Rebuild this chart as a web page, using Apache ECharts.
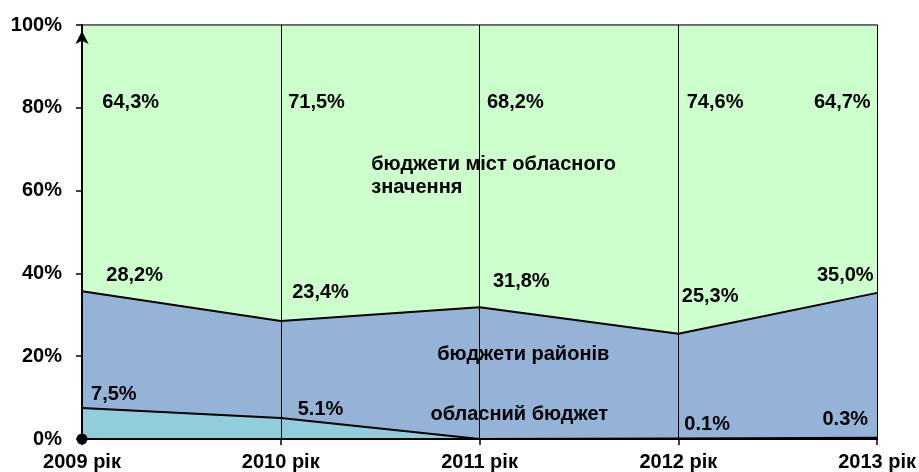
<!DOCTYPE html>
<html>
<head>
<meta charset="utf-8">
<script src="https://cdn.jsdelivr.net/npm/echarts@6/dist/echarts.min.js"></script>
<style>
html,body{margin:0;padding:0;background:#fff;}
#chart{width:919px;height:472px;}
</style>
</head>
<body>
<div id="chart"></div>
<script>
// Categories
var years = ['2009 рік', '2010 рік', '2011 рік', '2012 рік', '2013 рік'];
// Series values (percent shares)
var oblasnyi = [7.5, 5.1, 0.0, 0.1, 0.3];
var raiony = [28.2, 23.4, 31.8, 25.3, 35.0];
var mista = [64.3, 71.5, 68.2, 74.6, 64.7];
var seriesNames = ['обласний бюджет', 'бюджети районів', 'бюджети міст обласного значення'];
// Y tick values
var yTicks = [0, 20, 40, 60, 80, 100];

// Annotation texts and their anchor positions in data units (x: category index, y: percent)
var noteText = ['64,3%', '71,5%', '68,2%', '74,6%', '64,7%',
  '28,2%', '23,4%', '31,8%', '25,3%', '35,0%',
  '7,5%', '5.1%', '0.1%', '0.3%',
  'бюджети міст обласного\nзначення', 'бюджети районів', 'обласний бюджет'];
var noteX = [0.245, 1.18, 2.18, 3.185, 3.825,
  0.265, 1.2, 2.21, 3.16, 3.84,
  0.16, 1.2, 3.145, 3.84,
  1.455, 2.22, 2.2];
var noteY = [81.3, 81.3, 81.3, 81.3, 81.3,
  39.6, 35.4, 38.1, 34.5, 39.6,
  10.7, 7.2, 3.6, 4.6,
  63.5, 20.5, 6.0];

var FONT = "'Liberation Sans', Arial, sans-serif";
var notes = noteText.map(function (t, i) {
  var item = { value: [noteX[i], noteY[i]], name: t };
  if (t.indexOf('\n') >= 0) {
    item.label = { align: 'left' };
  }
  return item;
});

var chart = echarts.init(document.getElementById('chart'));
chart.setOption({
  animation: false,
  grid: { left: 82, right: 36, top: 25, bottom: 32, show: true, borderColor: '#555', borderWidth: 1.5, backgroundColor: 'transparent' },
  xAxis: [{
    type: 'category',
    data: years,
    boundaryGap: false,
    z: 10,
    axisLine: { lineStyle: { color: '#000', width: 2 }, symbol: ['circle', 'none'], symbolSize: [11, 11] },
    axisTick: { show: true, length: 6, lineStyle: { color: '#000', width: 1.5 } },
    axisLabel: { color: '#000', fontSize: 20, fontWeight: 'bold', fontFamily: FONT, margin: 13 },
    splitLine: { show: true, lineStyle: { color: '#000', width: 1 } }
  }, {
    type: 'value', min: 0, max: 4, show: false
  }],
  yAxis: {
    type: 'value',
    min: yTicks[0],
    max: yTicks[yTicks.length - 1],
    interval: 20,
    z: 10,
    axisLine: { show: true, lineStyle: { color: '#000', width: 2 }, symbol: ['none', 'arrow'], symbolSize: [10, 13], symbolOffset: [0, -6] },
    axisTick: { show: true, length: 6, lineStyle: { color: '#000', width: 1.5 } },
    axisLabel: { color: '#000', fontSize: 20, fontWeight: 'bold', fontFamily: FONT, margin: 20, formatter: '{value}%' },
    splitLine: { show: false }
  },
  series: [{
    name: seriesNames[0], type: 'line', stack: 'total', data: oblasnyi,
    symbol: 'none', lineStyle: { color: '#000', width: 2 },
    areaStyle: { color: '#92CDDC', opacity: 1 }, z: 2
  }, {
    name: seriesNames[1], type: 'line', stack: 'total', data: raiony,
    symbol: 'none', lineStyle: { color: '#000', width: 2 },
    areaStyle: { color: '#95B3D7', opacity: 1 }, z: 2
  }, {
    name: seriesNames[2], type: 'line', stack: 'total', data: mista,
    symbol: 'none', lineStyle: { color: '#555', width: 1.5 },
    areaStyle: { color: '#CCFFCC', opacity: 1 }, z: 2
  }, {
    type: 'scatter', xAxisIndex: 1, data: notes, symbolSize: 0, z: 20,
    silent: true,
    itemStyle: { opacity: 1 },
    label: {
      show: true, position: 'inside', formatter: function (p) { return p.name; },
      color: '#000', opacity: 1, fontSize: 20, fontWeight: 'bold', fontFamily: FONT, lineHeight: 23
    }
  }]
});
</script>
</body>
</html>
